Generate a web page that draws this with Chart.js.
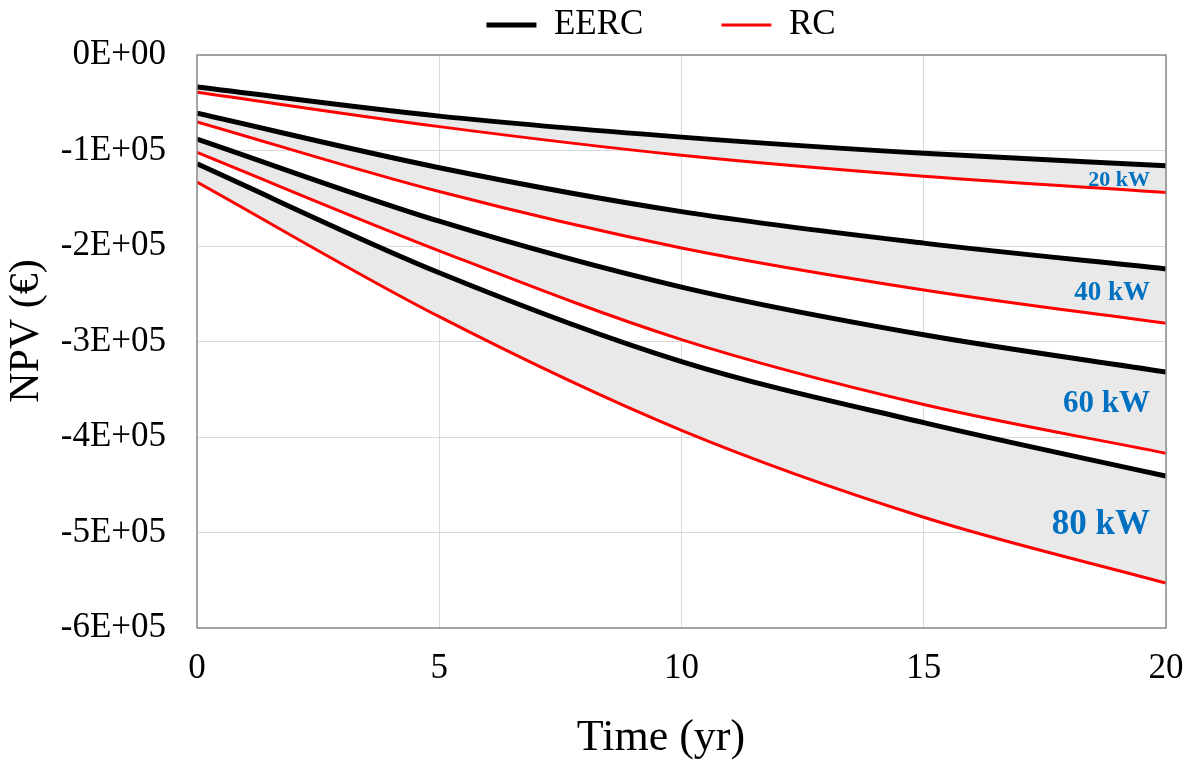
<!DOCTYPE html>
<html>
<head>
<meta charset="utf-8">
<script src="https://cdn.jsdelivr.net/npm/chart.js@4"></script>
<style>
html,body{margin:0;padding:0;background:#fff;}
#wrap{width:1191px;height:762px;position:relative;}
</style>
</head>
<body>
<div id="wrap"><canvas id="c"></canvas></div>
<script>
// Data (NPV in €)
const years = [0, 5, 10, 15, 20];
const eerc20 = [-33500, -64000, -86000, -103000, -116000];
const rc20   = [-39000, -75000, -105000, -127000, -144000];
const eerc40 = [-61000, -118000, -164000, -197000, -224000];
const rc40   = [-70000, -143000, -202000, -246000, -281000];
const eerc60 = [-88000, -174000, -243000, -293000, -332000];
const rc60   = [-102000, -205000, -298000, -366000, -417000];
const eerc80 = [-114000, -228000, -321000, -385000, -441000];
const rc80   = [-133000, -274000, -393000, -484000, -553000];
const yTickLabels = ['0E+00','-1E+05','-2E+05','-3E+05','-4E+05','-5E+05','-6E+05'];
const xTickLabels = ['0','5','10','15','20'];
const powerLabels = ['20 kW','40 kW','60 kW','80 kW'];
const powerLabelY = [-131000, -249000, -365000, -492000];
const xTitle = 'Time (yr)';
const yTitle = 'NPV (€)';

const toPts = arr => arr.map((v, i) => ({x: years[i], y: v}));
const pairs = [[eerc20, rc20],[eerc40, rc40],[eerc60, rc60],[eerc80, rc80]];
const datasets = [];
pairs.forEach(([e, r]) => {
  datasets.push({label:'EERC', data: toPts(e), borderColor:'#000000', backgroundColor:'#000000',
    borderWidth:5, pointRadius:0, cubicInterpolationMode:'monotone', fill:false, pointStyle:'line'});
  datasets.push({label:'RC', data: toPts(r), borderColor:'#ff0000', backgroundColor:'#e9e9e9',
    borderWidth:3, pointRadius:0, cubicInterpolationMode:'monotone', fill:'-1', pointStyle:'line'});
});

const SERIF = '"Liberation Serif", "DejaVu Serif", serif';
const LEG_FONT = 35, LEG_PAD = 78;

const legendPos = {
  id:'legendPos',
  beforeInit(chart){
    const orig = chart.legend.fit;
    chart.legend.fit = function(){ orig.call(this); this.height = 55; };
  },
  afterLayout(chart){
    const lg = chart.legend;
    lg.top = 25 - LEG_FONT / 2 - LEG_PAD;
    const mid = (lg.left + lg.right) / 2;
    const shift = 661 - mid;
    lg.left += shift; lg.right += shift;
  }
};
const frame = {
  id:'frame',
  afterDatasetsDraw(chart){
    const {ctx, chartArea:a} = chart;
    ctx.save();
    ctx.strokeStyle = '#8c8c8c';
    ctx.lineWidth = 1.5;
    ctx.strokeRect(a.left, a.top, a.right - a.left, a.bottom - a.top);
    ctx.restore();
  }
};
const sizes = [22, 27, 31, 35];
const kwLabels = {
  id:'kwLabels',
  afterDatasetsDraw(chart){
    const {ctx, scales:{x, y}} = chart;
    ctx.save();
    ctx.fillStyle = '#0070c0';
    ctx.textAlign = 'right';
    ctx.textBaseline = 'middle';
    powerLabels.forEach((t, i) => {
      ctx.font = 'bold ' + sizes[i] + 'px ' + SERIF;
      ctx.fillText(t, x.getPixelForValue(19.67), y.getPixelForValue(powerLabelY[i]));
    });
    ctx.restore();
  }
};
const axisTitles = {
  id:'axisTitles',
  afterDraw(chart){
    const {ctx} = chart;
    ctx.save();
    ctx.fillStyle = '#000';
    ctx.textAlign = 'center';
    ctx.textBaseline = 'middle';
    ctx.font = '44px ' + SERIF;
    ctx.fillText(xTitle, 661, 738);
    ctx.translate(27, 331);
    ctx.rotate(-Math.PI / 2);
    ctx.font = '42px ' + SERIF;
    ctx.fillText(yTitle, 0, 0);
    ctx.restore();
  }
};

new Chart(document.getElementById('c'), {
  type:'line',
  data:{datasets},
  plugins:[legendPos, frame, kwLabels, axisTitles],
  options:{
    responsive:true, maintainAspectRatio:false, animation:false,
    layout:{padding:{left:0, right:25, top:0, bottom:0}},
    plugins:{
      filler:{drawTime:'beforeDatasetsDraw'},
      tooltip:{enabled:false},
      legend:{
        position:'top',
        labels:{
          usePointStyle:true, pointStyleWidth:50, boxHeight:5,
          color:'#000', padding:LEG_PAD,
          font:{family:SERIF, size:LEG_FONT},
          filter:(item) => item.datasetIndex < 2
        }
      }
    },
    scales:{
      x:{
        type:'linear', min:0, max:20,
        afterFit(s){ s.height = 134; s.paddingLeft = 0; s.paddingRight = 0; },
        ticks:{stepSize:5, color:'#000', padding:20, font:{family:SERIF, size:35},
          callback:(v) => xTickLabels[years.indexOf(v)] ?? ''},
        grid:{color:'#d9d9d9', drawTicks:false},
        border:{display:false}
      },
      y:{
        min:-600000, max:0,
        afterFit(s){ s.width = 197; s.paddingTop = 0; s.paddingBottom = 0; },
        ticks:{stepSize:100000, color:'#000', padding:31, font:{family:SERIF, size:35},
          callback:(v) => yTickLabels[Math.round(-v/100000)]},
        grid:{color:'#d9d9d9', drawTicks:false},
        border:{display:false}
      }
    }
  }
});
</script>
</body>
</html>
